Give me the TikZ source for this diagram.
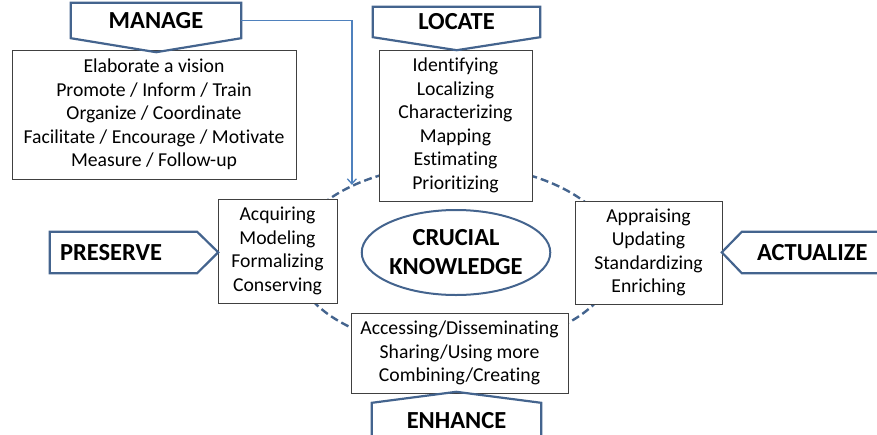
\documentclass[tikz,border=0pt]{standalone}
\usepackage{fontspec}
\setmainfont{Carlito}[Ligatures=NoCommon]
\usetikzlibrary{shapes.geometric,arrows.meta}
\definecolor{tagblue}{RGB}{68,100,142}
\definecolor{arrowblue}{RGB}{79,129,189}

\begin{document}
\begin{tikzpicture}[x=1pt,y=-1pt,
    tag/.style={inner sep=0pt, font=\fontsize{24.5}{28}\selectfont\bfseries},
    tagline/.style={draw=tagblue, line width=2.2pt, line join=miter},
    box/.style={draw=black!75, fill=white, line width=0.9pt, inner sep=0pt,
      align=center, font=\fontsize{19.7}{23.5}\selectfont}]

    \clip (0,0) rectangle (877,434);

    % dashed ring round the knowledge
    \node[ellipse, draw=tagblue, line width=2.4pt, dash pattern=on 8pt off 4pt,
      minimum width=324pt, minimum height=184pt] (ring) at (455,257) {};

    \node[ellipse, draw=tagblue, line width=2pt, inner sep=0pt,
      minimum width=184pt, minimum height=85pt, align=center,
      font=\fontsize{24.5}{29}\selectfont\bfseries] (crucial) at (456,252.5)
    {CRUCIAL\\KNOWLEDGE};

    % activity boxes
    \node[box, minimum width=284pt, minimum height=129pt] (manbox) at (154,114.5)
    {Elaborate a vision\\Promote / Inform / Train\\Organize / Coordinate\\
      Facilitate / Encourage / Motivate\\Measure / Follow-up};

    \node[box, minimum width=153pt, minimum height=151pt] (locbox) at (455.5,125.5)
    {Identifying\\Localizing\\Characterizing\\Mapping\\Estimating\\Prioritizing};

    \node[box, minimum width=119pt, minimum height=104pt] (presbox) at (277.5,251)
    {Acquiring\\Modeling\\Formalizing\\Conserving};

    \node[box, minimum width=147pt, minimum height=103pt] (actbox) at (648.5,252.5)
    {Appraising\\Updating\\Standardizing\\Enriching};

    \node[box, minimum width=217pt, minimum height=80pt] (enhbox) at (459.5,353)
    {Accessing/Disseminating\\Sharing/Using more\\Combining/Creating};

    % tags
    \node[tag, minimum width=170pt, minimum height=35pt] (manage) at (156,20.5) {MANAGE};
    \draw[tagline] (manage.north west) -- (manage.north east) -- (manage.south east)
      -- ++(-85,14) -- (manage.south west) -- cycle;

    \node[tag, minimum width=167pt, minimum height=30pt] (locate) at (456.5,22) {LOCATE};
    \draw[tagline] (locate.north west) -- (locate.north east) -- (locate.south east)
      -- ++(-83.5,13) -- (locate.south west) -- cycle;

    \node[tag, minimum width=147pt, minimum height=41pt, text width=127pt, align=left]
      (preserve) at (123.5,252.5) {PRESERVE};
    \draw[tagline] (preserve.north west) -- (preserve.north east) -- ++(21,20.5)
      -- (preserve.south east) -- (preserve.south west) -- cycle;

    \node[tag, minimum width=170pt, minimum height=41pt, text width=140pt, align=left]
      (actualize) at (827,252.5) {ACTUALIZE};
    \draw[tagline] (actualize.north east) -- (actualize.north west) -- ++(-20,20.5)
      -- (actualize.south west) -- (actualize.south east) -- cycle;

    \node[tag, minimum width=169pt, minimum height=35pt] (enhance) at (456.5,420.5) {ENHANCE};
    \draw[tagline] (enhance.south west) -- (enhance.north west) -- ++(84.5,-11)
      -- (enhance.north east) -- (enhance.south east) -- cycle;

    % manage acts on the whole ring
    \draw[arrowblue, line width=1.3pt, -{Straight Barb[length=5pt,width=9pt]}]
      (manage.east) -| (ring.145);

\end{tikzpicture}
\end{document}
